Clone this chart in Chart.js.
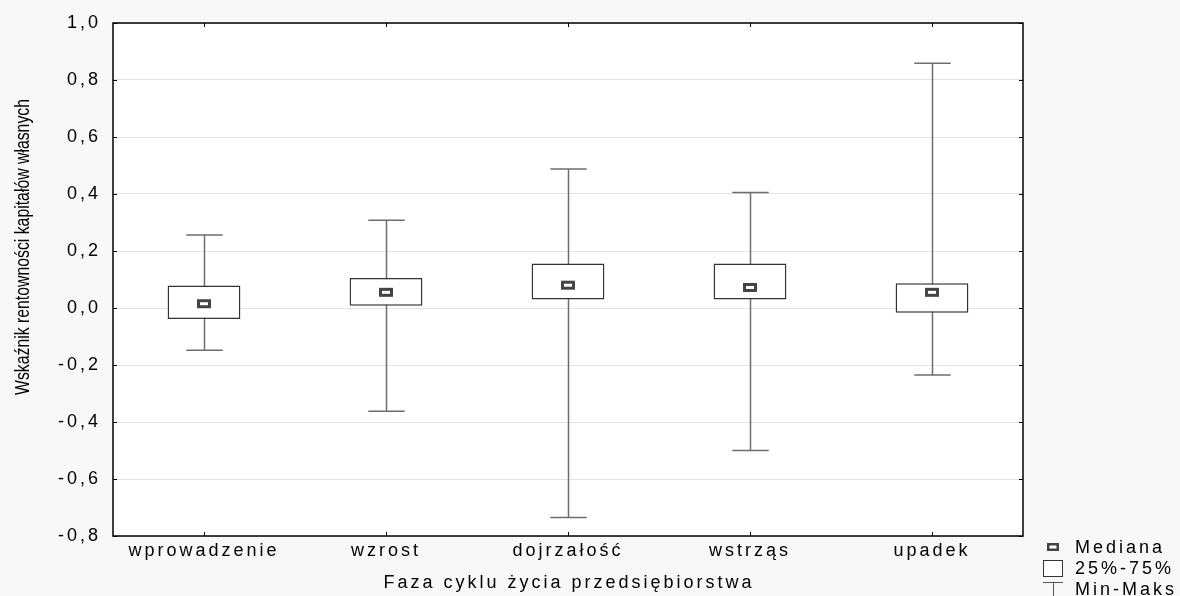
<!DOCTYPE html>
<html>
<head>
<meta charset="utf-8">
<script src="https://cdn.jsdelivr.net/npm/chart.js@4"></script>
<style>
  html, body { margin: 0; padding: 0; background: #f8f8f8; }
  #wrap { width: 1180px; height: 596px; }
</style>
</head>
<body>
<div id="wrap"><canvas id="c" width="1180" height="596"></canvas></div>
<script>
// ---- data ----
const categories = ["wprowadzenie", "wzrost", "dojrzałość", "wstrząs", "upadek"];
const minValues    = [-0.148, -0.362, -0.735, -0.500, -0.235];
const q1Values     = [-0.039,  0.008,  0.030,  0.030, -0.017];
const medianValues = [ 0.015,  0.055,  0.080,  0.072,  0.055];
const q3Values     = [ 0.079,  0.105,  0.156,  0.156,  0.087];
const maxValues    = [ 0.256,  0.308,  0.488,  0.405,  0.859];
const yTickMin = -0.8, yTickMax = 1.0, yTickStep = 0.2;
const xTitle = "Faza cyklu życia przedsiębiorstwa";
const yTitle = "Wskaźnik rentowności kapitałów własnych";
const legendLabels = ["Mediana", "25%-75%", "Min-Maks"];

const FONT = '"Liberation Sans", Arial, sans-serif';
const FSIZE = 18;
const SPACING = '3px';

const fmt = v => (Math.abs(v) < 1e-9 ? 0 : v).toFixed(1).replace('.', ',');

const boxPlugin = {
  id: 'boxplot',
  beforeUpdate(chart) { chart.ctx.letterSpacing = SPACING; },
  beforeDraw(chart) {
    const ctx = chart.ctx, a = chart.chartArea;
    ctx.letterSpacing = SPACING;
    ctx.save();
    ctx.fillStyle = '#f8f8f8';
    ctx.fillRect(0, 0, chart.width, chart.height);
    ctx.fillStyle = '#ffffff';
    ctx.fillRect(a.left, a.top, a.right - a.left, a.bottom - a.top);
    ctx.restore();
  },
  beforeDatasetsDraw(chart) {
    const ctx = chart.ctx, xs = chart.scales.x, ys = chart.scales.y;
    const catW = (xs.right - xs.left) / categories.length;
    ctx.save();
    ctx.strokeStyle = '#6e6e6e';
    ctx.lineWidth = 1.5;
    categories.forEach((c, i) => {
      const x = Math.round(xs.getPixelForValue(i)) + 0.5;
      const yMin = ys.getPixelForValue(minValues[i]);
      const yMax = ys.getPixelForValue(maxValues[i]);
      const half = catW * 0.1;
      ctx.beginPath();
      ctx.moveTo(x, yMin); ctx.lineTo(x, yMax);
      ctx.moveTo(x - half, yMin); ctx.lineTo(x + half, yMin);
      ctx.moveTo(x - half, yMax); ctx.lineTo(x + half, yMax);
      ctx.stroke();
    });
    ctx.restore();
  },
  afterDatasetsDraw(chart) {
    const ctx = chart.ctx, xs = chart.scales.x, ys = chart.scales.y, a = chart.chartArea;
    ctx.save();
    categories.forEach((c, i) => {
      const x = xs.getPixelForValue(i);
      const y = ys.getPixelForValue(medianValues[i]);
      ctx.fillStyle = '#ffffff';
      ctx.fillRect(x - 7, y - 4.5, 14, 9);
      ctx.strokeStyle = '#444444';
      ctx.lineWidth = 3;
      ctx.strokeRect(x - 5.5, y - 3, 11, 6);
    });
    ctx.strokeStyle = '#000000';
    ctx.lineWidth = 1.5;
    ctx.strokeRect(a.left, a.top, a.right - a.left, a.bottom - a.top);
    ctx.lineWidth = 1;
    ctx.beginPath();
    ys.ticks.forEach(t => {
      const y = Math.round(ys.getPixelForValue(t.value)) + 0.5;
      ctx.moveTo(a.left, y); ctx.lineTo(a.left + 4, y);
      ctx.moveTo(a.right, y); ctx.lineTo(a.right - 4, y);
    });
    categories.forEach((c, i) => {
      const x = Math.round(xs.getPixelForValue(i)) + 0.5;
      ctx.moveTo(x, a.bottom); ctx.lineTo(x, a.bottom - 4);
      ctx.moveTo(x, a.top); ctx.lineTo(x, a.top + 4);
    });
    ctx.stroke();
    ctx.restore();
  },
  afterDraw(chart) {
    const ctx = chart.ctx, a = chart.chartArea;
    ctx.save();
    ctx.fillStyle = '#000000';
    ctx.letterSpacing = SPACING;
    ctx.font = FSIZE + 'px ' + FONT;
    ctx.textAlign = 'center';
    ctx.textBaseline = 'middle';
    ctx.fillText(xTitle, (a.left + a.right) / 2 + 1, 583);
    // y title (condensed)
    ctx.save();
    ctx.letterSpacing = '0px';
    ctx.font = '20px ' + FONT;
    ctx.translate(23, 247);
    ctx.rotate(-Math.PI / 2);
    ctx.scale(0.79, 1);
    ctx.textAlign = 'center';
    ctx.textBaseline = 'middle';
    ctx.fillText(yTitle, 0, 0);
    ctx.restore();
    // legend
    ctx.letterSpacing = SPACING;
    ctx.font = FSIZE + 'px ' + FONT;
    ctx.textAlign = 'left';
    ctx.textBaseline = 'middle';
    ctx.fillStyle = '#ffffff';
    ctx.fillRect(1047, 543, 12, 8);
    ctx.strokeStyle = '#444444';
    ctx.lineWidth = 2.5;
    ctx.strokeRect(1048.25, 544.25, 9.5, 5.5);
    ctx.fillStyle = '#000000';
    ctx.fillText(legendLabels[0], 1075, 548);
    ctx.strokeStyle = '#333333';
    ctx.lineWidth = 1;
    ctx.fillStyle = '#ffffff';
    ctx.fillRect(1043.5, 560.5, 19, 16);
    ctx.strokeRect(1043.5, 560.5, 19, 16);
    ctx.fillStyle = '#000000';
    ctx.fillText(legendLabels[1], 1075, 569);
    ctx.strokeStyle = '#555555';
    ctx.beginPath();
    ctx.moveTo(1043, 582.5); ctx.lineTo(1063, 582.5);
    ctx.moveTo(1053.5, 582.5); ctx.lineTo(1053.5, 600);
    ctx.stroke();
    ctx.fillText(legendLabels[2], 1075, 590);
    ctx.restore();
  }
};

new Chart(document.getElementById('c'), {
  type: 'bar',
  data: {
    labels: categories,
    datasets: [{
      label: '25%-75%',
      data: categories.map((c, i) => [q1Values[i], q3Values[i]]),
      backgroundColor: '#ffffff',
      borderColor: '#333333',
      borderWidth: 1.5,
      borderSkipped: false,
      barPercentage: 0.4,
      categoryPercentage: 1.0
    }]
  },
  options: {
    responsive: false,
    animation: false,
    devicePixelRatio: 1,
    layout: { padding: { top: 23, right: 157, left: 0, bottom: 0 } },
    plugins: { legend: { display: false }, tooltip: { enabled: false } },
    scales: {
      x: {
        grid: { display: false, drawTicks: false },
        border: { display: false },
        ticks: { color: '#000', padding: 4, font: { family: FONT, size: FSIZE } },
        afterFit(scale) { scale.height = 60; }
      },
      y: {
        min: yTickMin, max: yTickMax,
        grid: { color: '#e4e4e4', lineWidth: 1, drawTicks: false },
        border: { display: false },
        ticks: {
          stepSize: yTickStep, color: '#000', padding: 12,
          font: { family: FONT, size: FSIZE },
          callback: v => fmt(v)
        },
        afterFit(scale) { scale.width = 113; }
      }
    }
  },
  plugins: [boxPlugin]
});
</script>
</body>
</html>
